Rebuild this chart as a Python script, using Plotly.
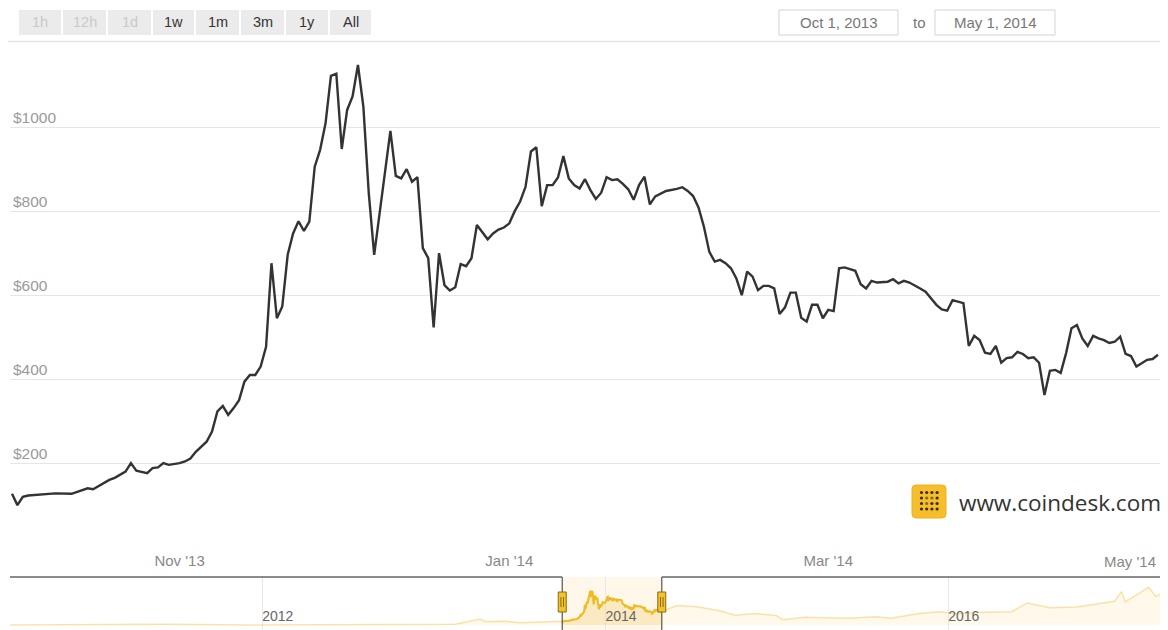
import plotly.graph_objects as go

# ---------------- data ----------------
dates = ["2013-10-01","2013-10-02","2013-10-03","2013-10-04","2013-10-09","2013-10-12","2013-10-15","2013-10-16",
"2013-10-19","2013-10-20","2013-10-22","2013-10-23","2013-10-24","2013-10-26","2013-10-27","2013-10-28","2013-10-29",
"2013-10-30","2013-11-01","2013-11-02","2013-11-03","2013-11-04","2013-11-06","2013-11-07","2013-11-08","2013-11-09",
"2013-11-10","2013-11-11","2013-11-12","2013-11-13","2013-11-14","2013-11-15","2013-11-16","2013-11-17","2013-11-18",
"2013-11-19","2013-11-20","2013-11-21","2013-11-22","2013-11-23","2013-11-24","2013-11-25","2013-11-26","2013-11-27",
"2013-11-28","2013-11-29","2013-11-30","2013-12-01","2013-12-02","2013-12-03","2013-12-04","2013-12-05","2013-12-06",
"2013-12-07","2013-12-10","2013-12-11","2013-12-12","2013-12-13","2013-12-14","2013-12-15","2013-12-16","2013-12-17",
"2013-12-18","2013-12-19","2013-12-20","2013-12-21","2013-12-22","2013-12-23","2013-12-24","2013-12-25","2013-12-26",
"2013-12-27","2013-12-28","2013-12-29","2013-12-30","2013-12-31","2014-01-01","2014-01-02","2014-01-03","2014-01-04",
"2014-01-05","2014-01-06","2014-01-07","2014-01-08","2014-01-09","2014-01-10","2014-01-11","2014-01-12","2014-01-13",
"2014-01-14","2014-01-15","2014-01-16","2014-01-17","2014-01-18","2014-01-19","2014-01-20","2014-01-21","2014-01-22",
"2014-01-23","2014-01-24","2014-01-25","2014-01-26","2014-01-27","2014-01-28","2014-01-29","2014-01-30","2014-02-01",
"2014-02-02","2014-02-03","2014-02-04","2014-02-05","2014-02-06","2014-02-07","2014-02-08","2014-02-09","2014-02-10",
"2014-02-11","2014-02-12","2014-02-13","2014-02-14","2014-02-15","2014-02-16","2014-02-17","2014-02-18","2014-02-19",
"2014-02-20","2014-02-21","2014-02-22","2014-02-23","2014-02-24","2014-02-25","2014-02-26","2014-02-27","2014-02-28",
"2014-03-01","2014-03-02","2014-03-03","2014-03-04","2014-03-06","2014-03-07","2014-03-08","2014-03-09","2014-03-10",
"2014-03-12","2014-03-13","2014-03-14","2014-03-15","2014-03-16","2014-03-18","2014-03-19","2014-03-21","2014-03-22",
"2014-03-23","2014-03-24","2014-03-26","2014-03-27","2014-03-28","2014-03-29","2014-03-30","2014-03-31","2014-04-01",
"2014-04-02","2014-04-03","2014-04-04","2014-04-05","2014-04-06","2014-04-07","2014-04-08","2014-04-09","2014-04-10",
"2014-04-11","2014-04-12","2014-04-13","2014-04-14","2014-04-15","2014-04-16","2014-04-17","2014-04-18","2014-04-19",
"2014-04-20","2014-04-21","2014-04-22","2014-04-23","2014-04-24","2014-04-25","2014-04-26","2014-04-27","2014-04-28",
"2014-04-29","2014-04-30","2014-05-01"]

prices = [129,102,122,125,130,129,142,140,
162,167,182,202,184,178,190,192,202,
198,202,206,213,229,253,277,325,338,
317,333,352,396,412,412,432,479,678,
547,575,698,749,778,755,777,908,948,
1011,1124,1129,950,1043,1075,1150,1051,845,
698,993,886,880,902,872,883,714,690,
525,702,626,613,621,676,671,690,769,
753,735,749,758,763,773,802,825,860,
944,954,814,864,864,882,933,880,864,
856,878,852,831,846,883,876,878,867,
854,829,864,884,818,837,843,850,855,
859,850,838,811,765,705,682,686,678,
666,642,602,658,646,614,624,624,618,
557,573,608,608,548,539,579,579,547,
567,564,666,668,660,628,618,636,632,
634,640,630,636,632,618,610,579,568,
565,590,583,481,505,495,465,462,481,
441,452,454,467,462,452,454,441,364,
422,424,417,464,523,531,499,481,505,
499,495,488,491,503,462,457,432,440,
448,450,460]

# navigator (full history, outside the selected window)
nav_pre_dates = ["2010-07-13","2011-06-08","2011-12-01","2012-06-01","2012-12-01","2013-02-15",
                 "2013-04-09","2013-04-20","2013-06-01","2013-07-05","2013-08-15","2013-09-30"]
nav_pre_prices = [0, 25, 3, 6, 13, 28, 200, 120, 125, 75, 105, 125]
nav_post_dates = ["2014-06-03","2014-07-15","2014-09-01","2014-10-05","2014-11-15","2014-12-31",
                  "2015-01-14","2015-03-01","2015-06-01","2015-08-01","2015-09-01","2015-11-04",
                  "2015-12-15","2016-01-15","2016-03-01","2016-05-15","2016-06-17","2016-07-15",
                  "2016-08-05","2016-10-01","2016-11-15","2016-12-20","2017-01-04","2017-01-12",
                  "2017-02-01","2017-02-23","2017-03-03","2017-03-18","2017-03-27"]
nav_post_prices = [660, 620, 480, 330, 390, 320,
                   180, 260, 225, 280, 230, 400,
                   450, 380, 420, 450, 740, 660,
                   580, 610, 720, 800, 1130, 780,
                   980, 1180, 1280, 960, 1040]

y_ticks = [200, 400, 600, 800, 1000]
y_tick_labels = ["$200", "$400", "$600", "$800", "$1000"]
x_tick_dates = ["2013-11-01", "2014-01-01", "2014-03-01"]
x_tick_labels = ["Nov '13", "Jan '14", "Mar '14"]
last_tick_date = "2014-05-01"
last_tick_label = "May '14"
nav_year_ticks = ["2012-01-01", "2014-01-01", "2016-01-01"]
nav_year_labels = ["2012", "2014", "2016"]
buttons = ["1h", "12h", "1d", "1w", "1m", "3m", "1y", "All"]
button_enabled = [False, False, False, True, True, True, True, True]
range_from = "Oct 1, 2013"
range_to = "May 1, 2014"
sel_start = "2013-10-01"
sel_end = "2014-05-01"
nav_start = "2010-07-13"
nav_end = "2017-03-27"
site_text = "www.coindesk.com"

# ---------------- layout helpers (reference pixel -> paper) ----------------
OFF = 8                      # page body margin
W, H = 1160, 622
ML, MR, MT, MB = 2, 8, 37, 0
PW = W - ML - MR
PH = H - MT - MB


def PX(x):
    return (x - OFF - ML) / PW


def PY(y):
    return (H - MB - (y - OFF)) / PH


FONT = "Liberation Sans, Arial, sans-serif"

fig = go.Figure()

# main series
fig.add_trace(go.Scatter(x=dates, y=prices, mode="lines",
                         line=dict(color="#333333", width=2.4),
                         xaxis="x", yaxis="y", hoverinfo="skip", showlegend=False))

# navigator full series
nav_dates = nav_pre_dates + dates + nav_post_dates
nav_prices = nav_pre_prices + prices + nav_post_prices
fig.add_trace(go.Scatter(x=nav_dates, y=nav_prices, mode="lines", fill="tozeroy",
                         fillcolor="rgba(250,215,130,0.16)",
                         line=dict(color="rgba(243,196,70,0.45)", width=1.5),
                         xaxis="x2", yaxis="y2", hoverinfo="skip", showlegend=False))
# selected window in navigator
fig.add_trace(go.Scatter(x=dates, y=prices, mode="lines", fill="tozeroy",
                         fillcolor="rgba(245,200,110,0.22)",
                         line=dict(color="#eebc22", width=2),
                         xaxis="x2", yaxis="y2", hoverinfo="skip", showlegend=False))

shapes = []
annotations = []

# header buttons
btn_boxes = [(19, 61), (63, 106), (108, 151), (153, 194), (196, 239), (241, 284), (286, 328), (330, 371)]
for (x0, x1), lab, en in zip(btn_boxes, buttons, button_enabled):
    shapes.append(dict(type="rect", xref="paper", yref="paper",
                       x0=PX(x0), x1=PX(x1), y0=PY(35), y1=PY(10),
                       fillcolor="#ebebeb", line=dict(width=0), layer="above"))
    annotations.append(dict(xref="paper", yref="paper", x=PX((x0 + x1) / 2), y=PY(22.5),
                            text=lab, showarrow=False, xanchor="center", yanchor="middle",
                            font=dict(family=FONT, size=14.5, color="#333333" if en else "#c9c9c9")))

# date range boxes
for (x0, x1), txt in [((779, 898), range_from), ((935, 1055), range_to)]:
    shapes.append(dict(type="rect", xref="paper", yref="paper",
                       x0=PX(x0), x1=PX(x1), y0=PY(35), y1=PY(10),
                       fillcolor="white", line=dict(color="#d4d4d4", width=1)))
    annotations.append(dict(xref="paper", yref="paper", x=PX((x0 + x1) / 2), y=PY(22.5),
                            text=txt, showarrow=False, xanchor="center", yanchor="middle",
                            font=dict(family=FONT, size=15, color="#777777")))
annotations.append(dict(xref="paper", yref="paper", x=PX(919), y=PY(22.5), text="to",
                        showarrow=False, xanchor="center", yanchor="middle",
                        font=dict(family=FONT, size=15, color="#777777")))

# header separator line
shapes.append(dict(type="line", xref="paper", yref="paper", x0=PX(8), x1=PX(1162),
                   y0=PY(41.5), y1=PY(41.5), line=dict(color="#e4e4e4", width=1.5)))

# last x label (right aligned at the end)
annotations.append(dict(xref="x", yref="paper", x=last_tick_date, y=PY(561),
                        text=last_tick_label, showarrow=False, xanchor="right", yanchor="middle",
                        font=dict(family=FONT, size=15, color="#888888")))

# logo
lx0, lx1, ly0, ly1, r = 912, 946, 485, 518, 4


def rr_path(x0, x1, y0, y1, r):
    return ("M {a},{b} L {c},{b} Q {d},{b} {d},{e} L {d},{f} Q {d},{g} {c},{g} "
            "L {a},{g} Q {h},{g} {h},{f} L {h},{e} Q {h},{b} {a},{b} Z").format(
        a=PX(x0 + r), b=PY(y0), c=PX(x1 - r), d=PX(x1), e=PY(y0 + r), f=PY(y1 - r),
        g=PY(y1), h=PX(x0))


shapes.append(dict(type="path", xref="paper", yref="paper", path=rr_path(lx0, lx1, ly0, ly1, r),
                   fillcolor="#f6bd2c", line=dict(color="#eeb21c", width=1)))
dot_pattern = ["1111", "1001", "1011", "1111"]
for i, row in enumerate(dot_pattern):
    for j, c in enumerate(row):
        cx = 921.5 + j * 5.2
        cy = 492.5 + i * 5.5
        col = "#3b2f12" if c == "1" else "#8a6a1e"
        shapes.append(dict(type="circle", xref="paper", yref="paper",
                           x0=PX(cx - 1.6), x1=PX(cx + 1.6), y0=PY(cy + 1.6), y1=PY(cy - 1.6),
                           fillcolor=col, line=dict(width=0)))
annotations.append(dict(xref="paper", yref="paper", x=PX(957), y=PY(502), text=site_text,
                        showarrow=False, xanchor="left", yanchor="middle",
                        font=dict(family="Open Sans, sans-serif", size=22.5, color="#333333")))

# navigator selection mask
shapes.append(dict(type="rect", xref="x2", yref="paper", x0=sel_start, x1=sel_end,
                   y0=PY(630), y1=PY(577), fillcolor="rgba(250,226,180,0.28)",
                   line=dict(width=0), layer="below"))
# navigator outline
shapes.append(dict(type="line", xref="x2", yref="paper", x0=nav_start, x1=sel_start,
                   y0=PY(577), y1=PY(577), line=dict(color="#666666", width=1.5)))
shapes.append(dict(type="line", xref="x2", yref="paper", x0=sel_end, x1=nav_end,
                   y0=PY(577), y1=PY(577), line=dict(color="#666666", width=1.5)))
for d in [sel_start, sel_end]:
    shapes.append(dict(type="line", xref="x2", yref="paper", x0=d, x1=d,
                       y0=PY(630), y1=PY(577), line=dict(color="#555555", width=1.2)))
    # handle
    shapes.append(dict(type="rect", xref="x2", yref="paper", xsizemode="pixel", xanchor=d,
                       x0=-4, x1=4, y0=PY(612), y1=PY(592),
                       fillcolor="#f4c22c", line=dict(color="#8a6a10", width=1)))
    for off in [-1.3, 1.3]:
        shapes.append(dict(type="line", xref="x2", yref="paper", xsizemode="pixel", xanchor=d,
                           x0=off, x1=off, y0=PY(607), y1=PY(597),
                           line=dict(color="#8a6a10", width=1)))

fig.update_layout(
    width=W, height=H,
    margin=dict(l=ML, r=MR, t=MT, b=MB),
    paper_bgcolor="white", plot_bgcolor="white",
    showlegend=False,
    xaxis=dict(domain=[0, 1], anchor="y",
               range=["2013-09-30 15:07", "2014-05-01 08:53"],
               tickvals=x_tick_dates, ticktext=x_tick_labels,
               showgrid=False, zeroline=False, showline=False,
               ticks="outside", ticklen=2, tickcolor="rgba(0,0,0,0)",
               tickfont=dict(family=FONT, size=15, color="#888888")),
    yaxis=dict(domain=[(H - MB - (545 - OFF)) / PH, 1], anchor="x",
               range=[7.1, 1197.6],
               tickvals=y_ticks, ticktext=y_tick_labels,
               ticklabelposition="inside top",
               showgrid=True, gridcolor="#e6e6e6", gridwidth=1,
               zeroline=False, showline=False, ticks="",
               tickfont=dict(family=FONT, size=15.5, color="#9a9a9a")),
    xaxis2=dict(domain=[0, 1], anchor="y2",
                range=[nav_start, nav_end],
                tickvals=nav_year_ticks, ticktext=nav_year_labels,
                ticklabelposition="inside right",
                showgrid=True, gridcolor="#e8e8e8", gridwidth=1,
                zeroline=False, showline=False, ticks="",
                tickfont=dict(family=FONT, size=14, color="#666666")),
    yaxis2=dict(domain=[0, (H - MB - (577 - OFF)) / PH], anchor="x2",
                range=[-169, 1623], showgrid=False, zeroline=False,
                showticklabels=False, showline=False, ticks=""),
    shapes=shapes,
    annotations=annotations,
)

fig.write_html("out.html")
